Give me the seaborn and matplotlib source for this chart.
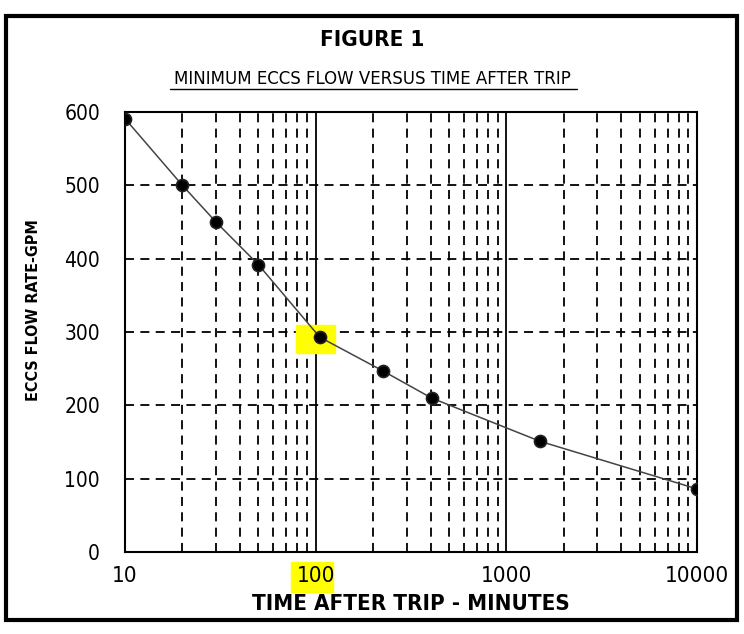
import numpy as np
import pandas as pd
import matplotlib.pyplot as plt
import matplotlib.patches as mpatches
from matplotlib.ticker import FixedLocator, MultipleLocator, NullFormatter
import seaborn as sns

# Datos
tiempo_min = [10, 20, 30, 50, 105, 225, 405, 1500, 10000]
flujo_gpm = [591, 500, 450, 392, 293, 247, 210, 151, 86]
x_ticks = [10, 100, 1000, 10000]
x_tick_labels = ["10", "100", "1000", "10000"]
y_ticks = [0, 100, 200, 300, 400, 500, 600]

df = pd.DataFrame({"t": tiempo_min, "q": flujo_gpm})

sns.set_style("white")
plt.rcParams["font.family"] = ["DejaVu Sans"]
plt.rcParams["font.stretch"] = "condensed"
plt.rcParams["text.color"] = "black"
plt.rcParams["axes.labelcolor"] = "black"

fig = plt.figure(figsize=(7.44, 6.34), dpi=100)
ax = fig.add_axes([0.168, 0.1293, 0.769, 0.694])

# Rejilla: discontinua en subdecadas, continua en decadas
minors = [m * 10 ** d for d in range(1, 4) for m in range(2, 10)]
for xv in minors:
    ax.axvline(xv, color="black", lw=1.3, ls=(0, (5, 3.5)), zorder=1)
for xv in [100, 1000]:
    ax.axvline(xv, color="black", lw=1.3, zorder=1)
for yv in y_ticks[1:-1]:
    ax.axhline(yv, color="black", lw=1.3, ls=(0, (5, 3.5)), zorder=1)

sns.lineplot(data=df, x="t", y="q", ax=ax, color="#444444", lw=1.1, zorder=3)
sns.scatterplot(data=df, x="t", y="q", ax=ax, s=75, color="black",
                edgecolor="#222222", linewidth=1.2, zorder=4)

ax.set_xscale("log")
ax.set_xlim(10, 10000)
ax.set_ylim(0, 600)
ax.xaxis.set_major_locator(FixedLocator(x_ticks))
ax.set_xticklabels(x_tick_labels)
ax.xaxis.set_minor_formatter(NullFormatter())
ax.set_yticks(y_ticks)
ax.yaxis.set_minor_locator(MultipleLocator(10))
ax.tick_params(axis="both", which="major", direction="out", length=6, width=2,
               labelsize=16, colors="black", pad=4)
ax.tick_params(axis="y", which="major", labelsize=15, pad=12)
ax.tick_params(axis="x", which="minor", length=0)
ax.tick_params(axis="y", which="minor", direction="inout", length=4, width=0.8)
for sp in ax.spines.values():
    sp.set_color("black")
    sp.set_linewidth(1.5)

ax.set_xlabel("TIME AFTER TRIP - MINUTES", fontsize=16, fontweight="bold", labelpad=6)
ax.set_ylabel("ECCS FLOW RATE-GPM", fontsize=11.5, fontweight="bold")
ax.yaxis.set_label_coords(-0.146, 0.55)

# Resaltados amarillos
ax.add_patch(mpatches.Rectangle((79, 271), 47, 39, color="#ffff00", zorder=2))
ax.add_patch(mpatches.Rectangle((0.29, -0.091), 0.074, 0.068, transform=ax.transAxes,
                                color="#ffff00", zorder=0, clip_on=False))

fig.text(0.5, 0.937, "FIGURE 1", ha="center", va="center", fontsize=16, fontweight="bold")
fig.text(0.5, 0.875, "MINIMUM ECCS FLOW VERSUS TIME AFTER TRIP", ha="center",
         va="center", fontsize=12, fontstretch="normal")
fig.add_artist(plt.Line2D([0.229, 0.775], [0.859, 0.859], color="black", lw=1))

# Marco exterior
fig.add_artist(mpatches.Rectangle((0.008, 0.022), 0.982, 0.952, transform=fig.transFigure,
                                  fill=False, edgecolor="black", lw=3))

fig.savefig("out.png", dpi=100)
